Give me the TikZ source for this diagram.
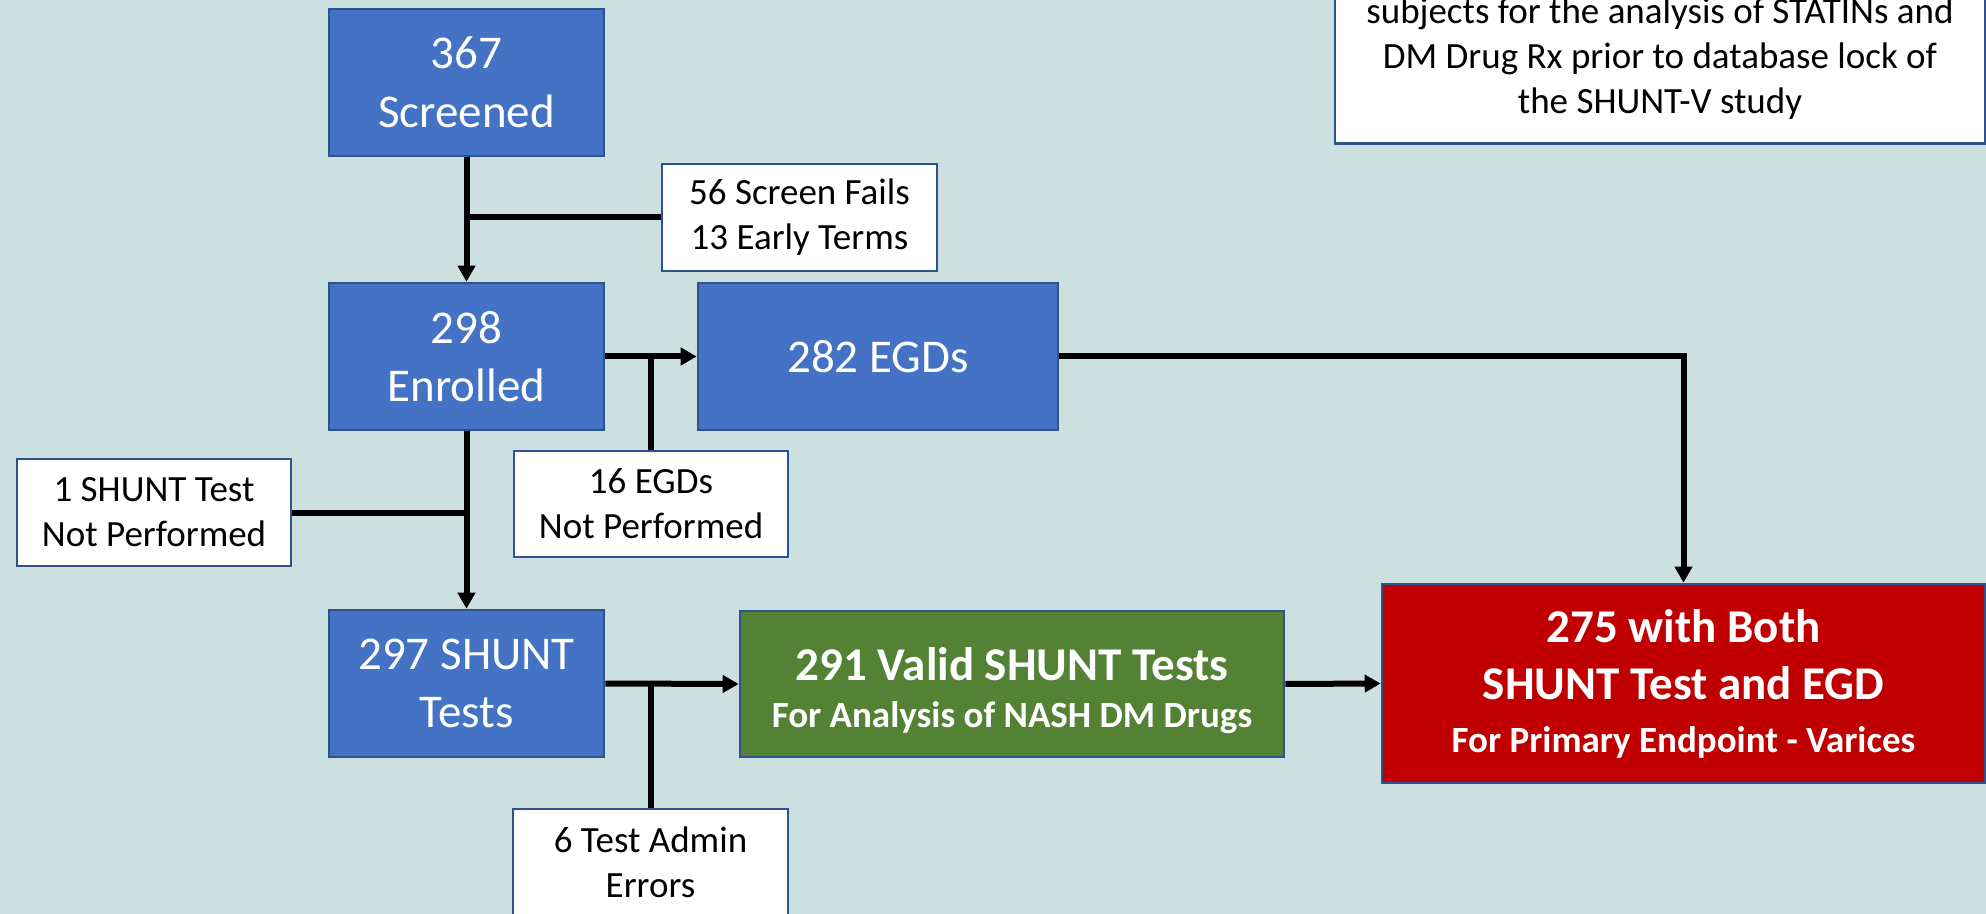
\documentclass[tikz,border=0pt]{standalone}
\usepackage{fontspec}
\setmainfont{Carlito}
\usetikzlibrary{arrows.meta}
\definecolor{bgc}{HTML}{CCE0DF}
\definecolor{myblue}{HTML}{4472C4}
\definecolor{bdr}{HTML}{2F528F}
\definecolor{mygreen}{HTML}{548235}
\definecolor{myred}{HTML}{C00000}
\tikzset{
  box/.style={draw=bdr, line width=1.3pt, inner sep=0pt, align=center, anchor=center},
  bluebox/.style={box, fill=myblue, text=white, font=\fontsize{23.5}{29.3}\selectfont},
  whitebox/.style={box, fill=white, text=black, font=\fontsize{18.5}{22.5}\selectfont},
  boldbox/.style={box, text=white, font=\bfseries\fontsize{23.5}{28.5}\selectfont},
  conn/.style={line width=3pt},
  arr/.style={conn, -{Triangle[length=8pt,width=8.5pt]}}
}
\begin{document}
\begin{tikzpicture}[x=0.5pt,y=-0.5pt]
\useasboundingbox (0,0) rectangle (1986,914);
\clip (0,0) rectangle (1986,914);
\fill[bgc] (0,0) rectangle (1986,914);

% note box (cut off at top)
\node[whitebox, minimum width=325pt, minimum height=85pt, font=\fontsize{18.5}{22.6}\selectfont] (note) at (1660,58.5)
  {subjects for the analysis of STATINs and\\DM Drug Rx prior to database lock of\\the SHUNT-V study};

% main boxes
\node[bluebox, minimum width=137.5pt, minimum height=73.5pt] (screened) at (466.5,82.5) {367\\Screened};
\node[bluebox, minimum width=137.5pt, minimum height=73.5pt] (enrolled) at (466.5,356.5) {298\\Enrolled};
\node[bluebox, minimum width=180pt, minimum height=73.5pt] (egds) at (878,356.5) {282 EGDs};
\node[bluebox, minimum width=137.5pt, minimum height=73.5pt] (shunt) at (466.5,683.5) {297 SHUNT\\Tests};
\node[boldbox, fill=mygreen, minimum width=272pt, minimum height=73pt] (valid) at (1012,684)
  {\rule{0pt}{23pt}291 Valid SHUNT Tests\\[-5pt]{\fontsize{18.5}{22}\selectfont For Analysis of NASH DM Drugs}};
\node[boldbox, fill=myred, minimum width=301.5pt, minimum height=99.5pt] (both) at (1683.5,683.5)
  {275 with Both\\SHUNT Test and EGD\\[-2pt]{\fontsize{18.5}{22}\selectfont For Primary Endpoint - Varices}};

% side boxes
\node[whitebox, minimum width=137.5pt, minimum height=53.5pt] (fails) at (799.5,217.5) {56 Screen Fails\\13 Early Terms};
\node[whitebox, minimum width=137pt, minimum height=53pt] (egdnp) at (651,504) {16 EGDs\\Not Performed};
\node[whitebox, minimum width=137pt, minimum height=53.5pt] (shuntnp) at (154,512.5) {1 SHUNT Test\\Not Performed};
\node[whitebox, minimum width=137.5pt, minimum height=53.5pt] (admin) at (650.5,862.5) {6 Test Admin\\Errors};

% connectors
\draw[arr] (screened.south) -- (enrolled.north);
\draw[conn] (fails.west) -- (fails.west -| screened.south);
\draw[arr] (enrolled.east) -- (egds.west);
\draw[conn] (egdnp.north) -- (egdnp.north |- enrolled.east);
\draw[arr] (enrolled.south) -- (shunt.north);
\draw[conn] (shuntnp.east) -- (shuntnp.east -| enrolled.south);
\draw[arr] (shunt.east) -- (valid.west);
\draw[conn] (admin.north) -- (admin.north |- shunt.east);
\draw[arr] (valid.east) -- (both.west);
\draw[arr] (egds.east) -| (both.north);
\end{tikzpicture}
\end{document}
